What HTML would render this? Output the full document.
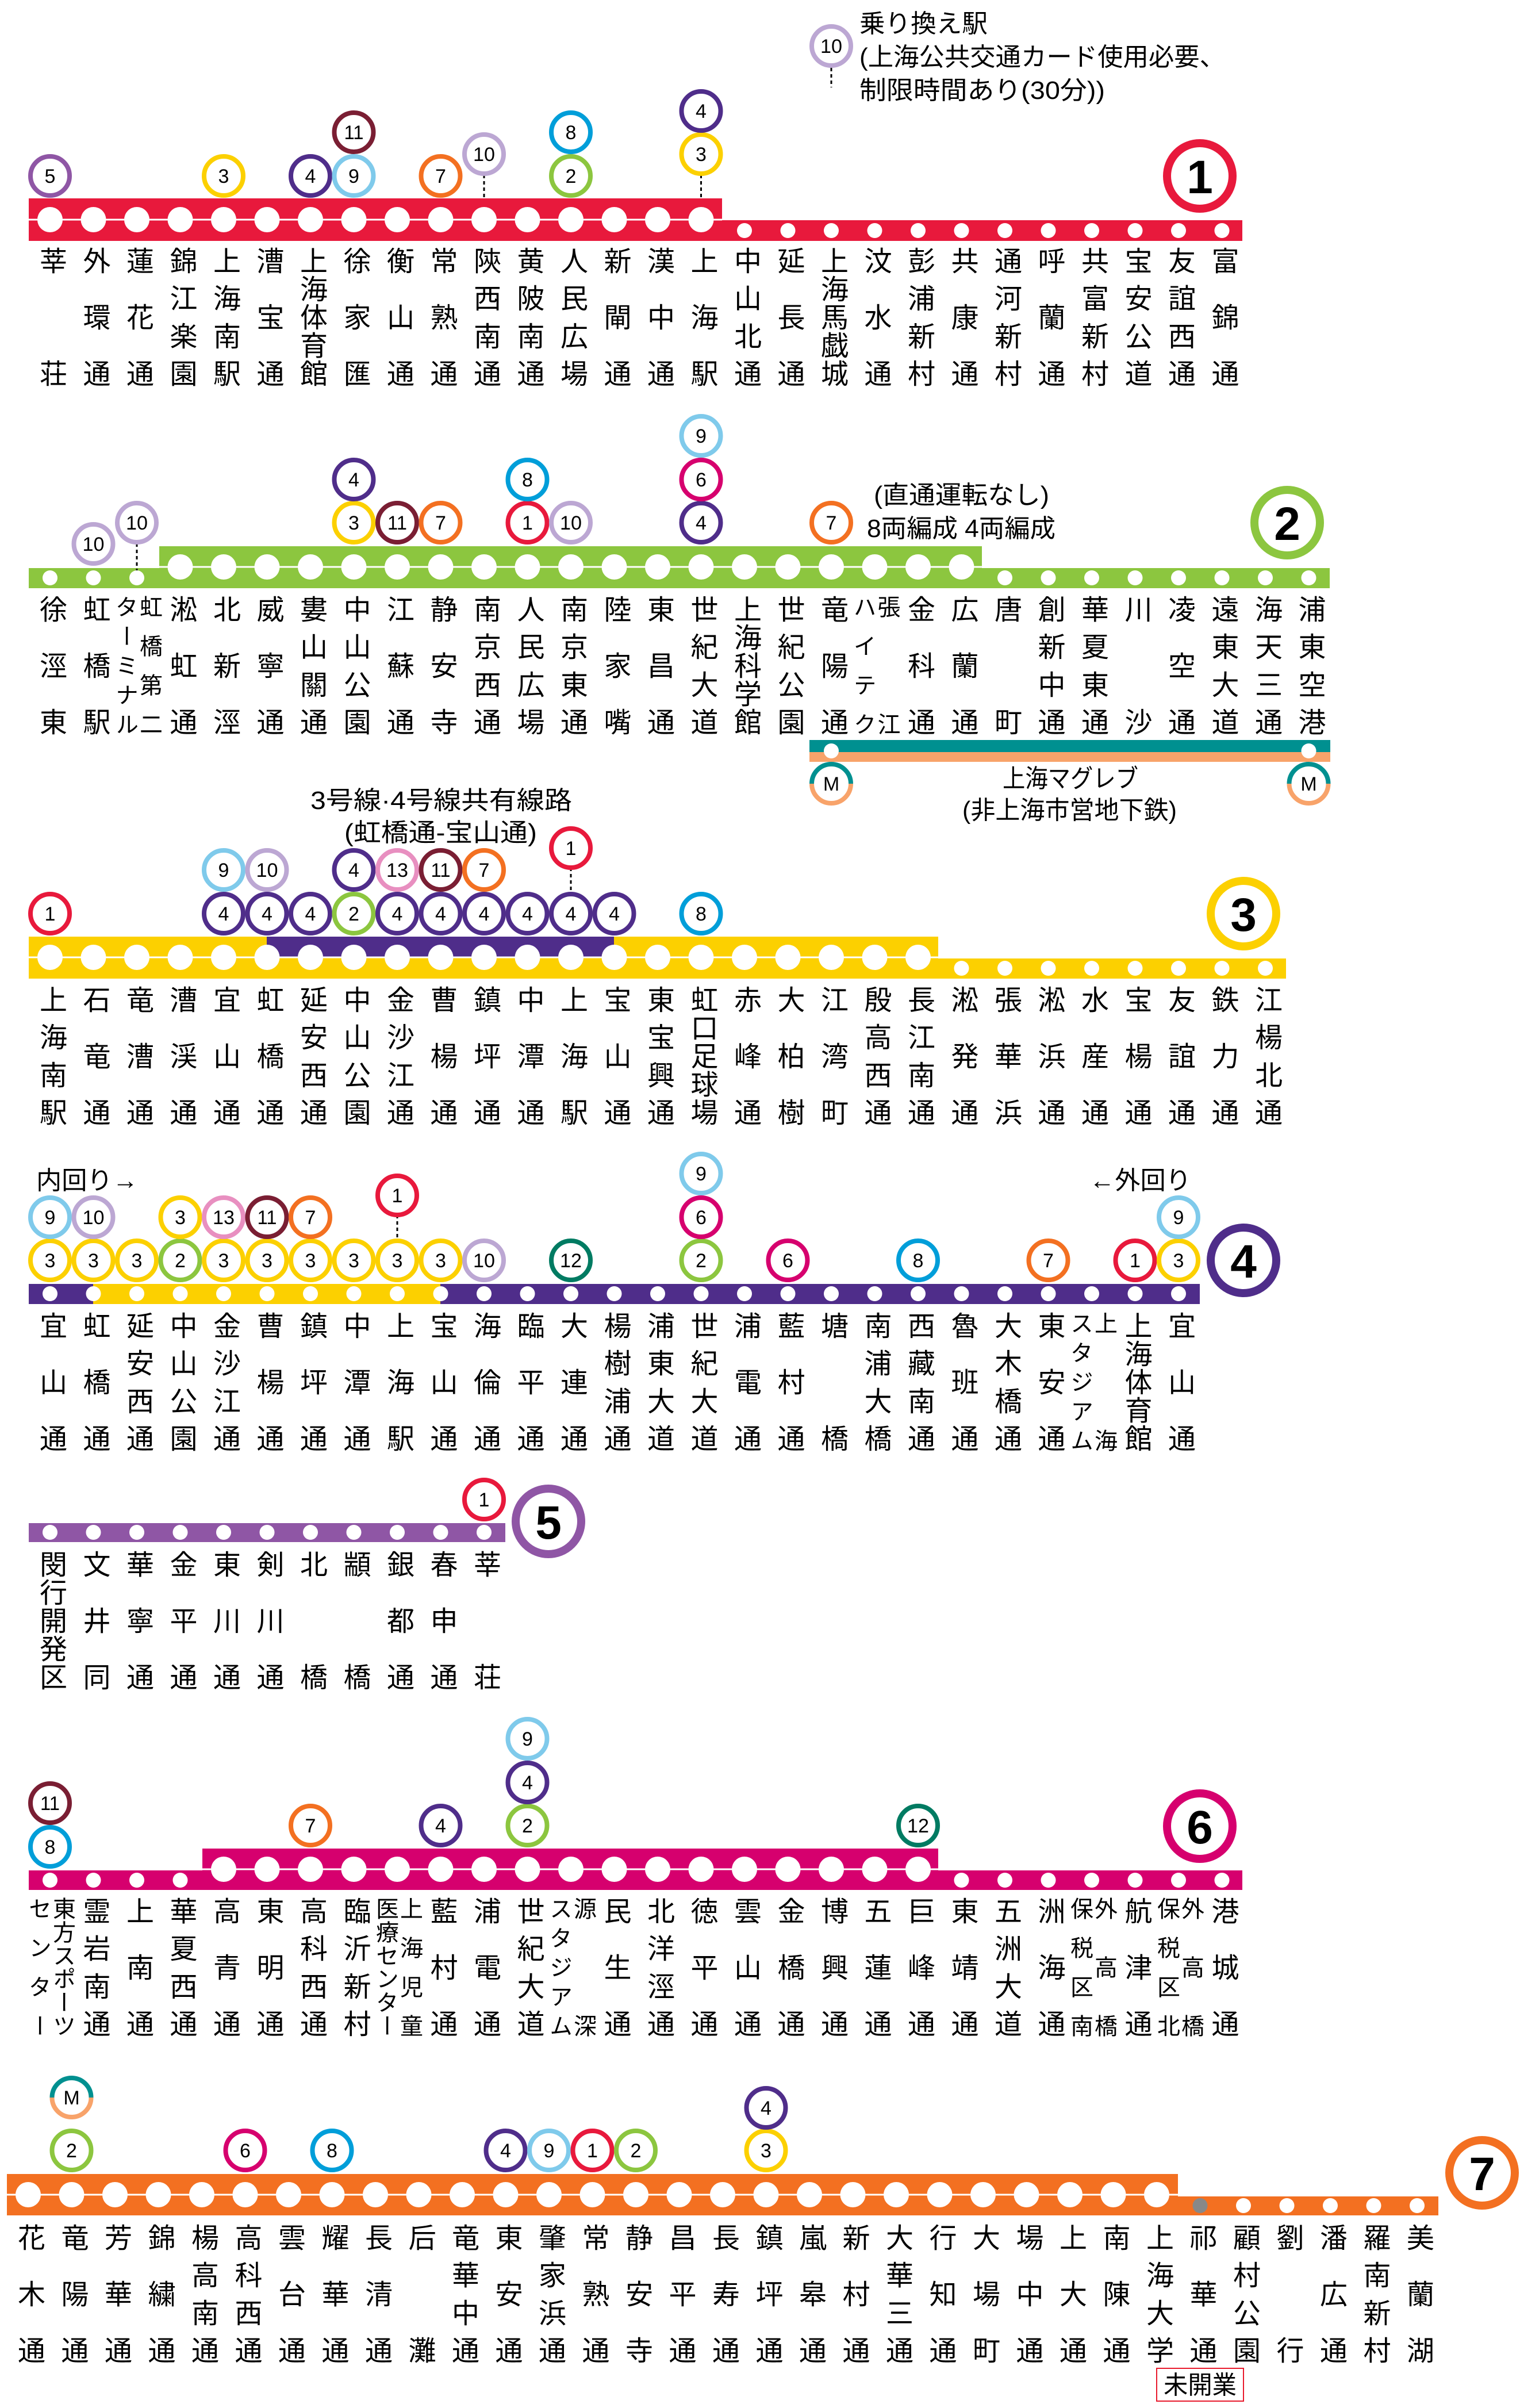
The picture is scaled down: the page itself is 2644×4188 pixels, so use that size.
<!DOCTYPE html>
<html><head><meta charset="utf-8">
<style>
html,body{margin:0;padding:0;background:#fff}
#w{position:relative;width:2644px;height:4188px;overflow:hidden;font-family:"Liberation Sans","Noto Sans CJK JP",sans-serif}
svg{position:absolute;left:0;top:0}
.b{fill:#fff;stroke-width:8}
.t{font-family:"Liberation Sans",sans-serif;font-size:34px;text-anchor:middle;fill:#000}
.L{fill:#fff;stroke-width:14}
.T{font-family:"Liberation Sans",sans-serif;font-size:82px;font-weight:bold;text-anchor:middle;fill:#000}
.j{font-family:"Liberation Sans","Noto Sans CJK JP",sans-serif;font-size:44px;fill:#000}
.k1{stroke:#e8193c}.k2{stroke:#8cc63f}.k3{stroke:#fcd000}.k4{stroke:#4f2d8a}.k5{stroke:#8f56a5}.k6{stroke:#d6006e}.k7{stroke:#f37021}.k8{stroke:#009ed9}.k9{stroke:#7fcaeb}.k10{stroke:#bca7d3}.k11{stroke:#7a1e33}.k12{stroke:#007b62}.k13{stroke:#e88fc0}
.dt{stroke:#000;stroke-width:3;stroke-dasharray:6 5}
.r{position:absolute;display:flex;height:244px}
.r i{writing-mode:vertical-rl;display:flex;justify-content:space-between;align-items:center;width:75.5px;height:244px;font-style:normal;font-size:48px;line-height:48px;flex:none;font-family:"Liberation Sans","Noto Sans CJK JP",sans-serif;color:#000}
.r b{font-weight:normal;display:block}
.r i.d{writing-mode:horizontal-tb;flex-direction:row-reverse;justify-content:center;align-items:stretch}
.r i.d i{width:42px;font-size:40px;line-height:42px}
</style></head><body><div id="w">
<svg width="2644" height="4188" viewBox="0 0 2644 4188" xmlns="http://www.w3.org/2000/svg">
<!-- legend -->
<line class="dt" x1="1446" y1="118" x2="1446" y2="152"/>
<circle class="b k10" cx="1446" cy="80" r="34"/><text class="t" x="1446" y="92" textLength="38" lengthAdjust="spacingAndGlyphs">10</text>
<text class="j" x="1495" y="56" textLength="223" lengthAdjust="spacingAndGlyphs">乗り換え駅</text>
<text class="j" x="1495" y="114" textLength="636" lengthAdjust="spacingAndGlyphs">(上海公共交通カード使用必要、</text>
<text class="j" x="1495" y="172" textLength="427" lengthAdjust="spacingAndGlyphs">制限時間あり(30分))</text>

<!-- LINE 1 -->
<rect x="50" y="345" width="1206" height="74" fill="#e8193c"/>
<rect x="50" y="383" width="2111" height="36" fill="#e8193c"/>
<line x1="50" y1="382" x2="1256" y2="382" stroke="#fff" stroke-width="3"/>
<line x1="87" y1="382" x2="1220.5" y2="382" stroke="#fff" stroke-width="44" stroke-linecap="round" stroke-dasharray="0 75.5"/>
<line x1="1295" y1="401" x2="2126.5" y2="401" stroke="#fff" stroke-width="26" stroke-linecap="round" stroke-dasharray="0 75.5"/>
<line class="dt" x1="842" y1="304" x2="842" y2="345"/>
<line class="dt" x1="1219.5" y1="304" x2="1219.5" y2="345"/>
<circle class="b k5" cx="87" cy="306" r="34"/><text class="t" x="87" y="318">5</text>
<circle class="b k3" cx="389" cy="306" r="34"/><text class="t" x="389" y="318">3</text>
<circle class="b k4" cx="540" cy="306" r="34"/><text class="t" x="540" y="318">4</text>
<circle class="b k9" cx="615.5" cy="306" r="34"/><text class="t" x="615.5" y="318">9</text>
<circle class="b k11" cx="615.5" cy="230" r="34"/><text class="t" x="615.5" y="242" textLength="34" lengthAdjust="spacingAndGlyphs">11</text>
<circle class="b k7" cx="766.5" cy="306" r="34"/><text class="t" x="766.5" y="318">7</text>
<circle class="b k10" cx="842" cy="268" r="34"/><text class="t" x="842" y="280" textLength="38" lengthAdjust="spacingAndGlyphs">10</text>
<circle class="b k2" cx="993" cy="306" r="34"/><text class="t" x="993" y="318">2</text>
<circle class="b k8" cx="993" cy="230" r="34"/><text class="t" x="993" y="242">8</text>
<circle class="b k3" cx="1219.5" cy="268" r="34"/><text class="t" x="1219.5" y="280">3</text>
<circle class="b k4" cx="1219.5" cy="193" r="34"/><text class="t" x="1219.5" y="205">4</text>
<circle class="L k1" cx="2087" cy="306" r="57"/><text class="T" x="2087" y="336">1</text>

<!-- LINE 2 -->
<rect x="50" y="988" width="2263" height="35" fill="#8cc63f"/>
<rect x="277" y="950" width="1431" height="73" fill="#8cc63f"/>
<line x1="277" y1="986" x2="1708" y2="986" stroke="#fff" stroke-width="3"/>
<line x1="313.5" y1="986" x2="1674" y2="986" stroke="#fff" stroke-width="44" stroke-linecap="round" stroke-dasharray="0 75.5"/>
<line x1="87" y1="1005" x2="239" y2="1005" stroke="#fff" stroke-width="26" stroke-linecap="round" stroke-dasharray="0 75.5"/>
<line x1="1748" y1="1005" x2="2278" y2="1005" stroke="#fff" stroke-width="26" stroke-linecap="round" stroke-dasharray="0 75.5"/>
<line class="dt" x1="238" y1="945" x2="238" y2="992"/>
<circle class="b k10" cx="162.5" cy="946" r="34"/><text class="t" x="162.5" y="958" textLength="38" lengthAdjust="spacingAndGlyphs">10</text>
<circle class="b k10" cx="238" cy="909" r="34"/><text class="t" x="238" y="921" textLength="38" lengthAdjust="spacingAndGlyphs">10</text>
<circle class="b k3" cx="615.5" cy="909" r="34"/><text class="t" x="615.5" y="921">3</text>
<circle class="b k4" cx="615.5" cy="834" r="34"/><text class="t" x="615.5" y="846">4</text>
<circle class="b k11" cx="691" cy="909" r="34"/><text class="t" x="691" y="921" textLength="34" lengthAdjust="spacingAndGlyphs">11</text>
<circle class="b k7" cx="766.5" cy="909" r="34"/><text class="t" x="766.5" y="921">7</text>
<circle class="b k1" cx="917.5" cy="909" r="34"/><text class="t" x="917.5" y="921">1</text>
<circle class="b k8" cx="917.5" cy="834" r="34"/><text class="t" x="917.5" y="846">8</text>
<circle class="b k10" cx="993" cy="909" r="34"/><text class="t" x="993" y="921" textLength="38" lengthAdjust="spacingAndGlyphs">10</text>
<circle class="b k4" cx="1219.5" cy="909" r="34"/><text class="t" x="1219.5" y="921">4</text>
<circle class="b k6" cx="1219.5" cy="834" r="34"/><text class="t" x="1219.5" y="846">6</text>
<circle class="b k9" cx="1219.5" cy="758" r="34"/><text class="t" x="1219.5" y="770">9</text>
<circle class="b k7" cx="1446" cy="909" r="34"/><text class="t" x="1446" y="921">7</text>
<text class="j" x="1520" y="876" textLength="305" lengthAdjust="spacingAndGlyphs">(直通運転なし)</text>
<text class="j" x="1508" y="934" textLength="328" lengthAdjust="spacingAndGlyphs">8両編成  4両編成</text>
<circle class="L k2" cx="2239" cy="909" r="57"/><text class="T" x="2239" y="939">2</text>
<!-- maglev -->
<rect x="1408" y="1287" width="906" height="21" fill="#009090"/>
<rect x="1408" y="1308" width="906" height="17" fill="#f8a36a"/>
<circle cx="1446" cy="1306" r="13" fill="#fff"/><circle cx="2276.5" cy="1306" r="13" fill="#fff"/>
<path d="M1412 1363A34 34 0 0 1 1480 1363" fill="none" stroke="#009090" stroke-width="8"/>
<path d="M1412 1363A34 34 0 0 0 1480 1363" fill="none" stroke="#f8a36a" stroke-width="8"/>
<text class="t" x="1446" y="1375">M</text>
<path d="M2242.5 1363A34 34 0 0 1 2310.5 1363" fill="none" stroke="#009090" stroke-width="8"/>
<path d="M2242.5 1363A34 34 0 0 0 2310.5 1363" fill="none" stroke="#f8a36a" stroke-width="8"/>
<text class="t" x="2276.5" y="1375">M</text>
<text class="j" x="1744" y="1369" textLength="236" lengthAdjust="spacingAndGlyphs">上海マグレブ</text>
<text class="j" x="1674" y="1424" textLength="373" lengthAdjust="spacingAndGlyphs">(非上海市営地下鉄)</text>

<!-- LINE 3 -->
<rect x="50" y="1667" width="2187" height="35" fill="#fcd000"/>
<rect x="50" y="1629" width="1582" height="73" fill="#fcd000"/>
<rect x="464" y="1629" width="604" height="36" fill="#4f2d8a"/>
<line x1="50" y1="1665" x2="1632" y2="1665" stroke="#fff" stroke-width="3"/>
<line x1="87" y1="1665" x2="1598.5" y2="1665" stroke="#fff" stroke-width="44" stroke-linecap="round" stroke-dasharray="0 75.5"/>
<line x1="1672.5" y1="1684" x2="2202.5" y2="1684" stroke="#fff" stroke-width="26" stroke-linecap="round" stroke-dasharray="0 75.5"/>
<text class="j" x="540" y="1407" textLength="455" lengthAdjust="spacingAndGlyphs">3号線·4号線共有線路</text>
<text class="j" x="599" y="1463" textLength="335" lengthAdjust="spacingAndGlyphs">(虹橋通-宝山通)</text>
<line class="dt" x1="993" y1="1509" x2="993" y2="1555"/>
<circle class="b k1" cx="87" cy="1589" r="34"/><text class="t" x="87" y="1601">1</text>
<circle class="b k4" cx="389" cy="1589" r="34"/><text class="t" x="389" y="1601">4</text>
<circle class="b k9" cx="389" cy="1513" r="34"/><text class="t" x="389" y="1525">9</text>
<circle class="b k4" cx="464.5" cy="1589" r="34"/><text class="t" x="464.5" y="1601">4</text>
<circle class="b k10" cx="464.5" cy="1513" r="34"/><text class="t" x="464.5" y="1525" textLength="38" lengthAdjust="spacingAndGlyphs">10</text>
<circle class="b k4" cx="540" cy="1589" r="34"/><text class="t" x="540" y="1601">4</text>
<circle class="b k2" cx="615.5" cy="1589" r="34"/><text class="t" x="615.5" y="1601">2</text>
<circle class="b k4" cx="615.5" cy="1513" r="34"/><text class="t" x="615.5" y="1525">4</text>
<circle class="b k4" cx="691" cy="1589" r="34"/><text class="t" x="691" y="1601">4</text>
<circle class="b k13" cx="691" cy="1513" r="34"/><text class="t" x="691" y="1525" textLength="38" lengthAdjust="spacingAndGlyphs">13</text>
<circle class="b k4" cx="766.5" cy="1589" r="34"/><text class="t" x="766.5" y="1601">4</text>
<circle class="b k11" cx="766.5" cy="1513" r="34"/><text class="t" x="766.5" y="1525" textLength="34" lengthAdjust="spacingAndGlyphs">11</text>
<circle class="b k4" cx="842" cy="1589" r="34"/><text class="t" x="842" y="1601">4</text>
<circle class="b k7" cx="842" cy="1513" r="34"/><text class="t" x="842" y="1525">7</text>
<circle class="b k4" cx="917.5" cy="1589" r="34"/><text class="t" x="917.5" y="1601">4</text>
<circle class="b k4" cx="993" cy="1589" r="34"/><text class="t" x="993" y="1601">4</text>
<circle class="b k1" cx="993" cy="1475" r="34"/><text class="t" x="993" y="1487">1</text>
<circle class="b k4" cx="1068.5" cy="1589" r="34"/><text class="t" x="1068.5" y="1601">4</text>
<circle class="b k8" cx="1219.5" cy="1589" r="34"/><text class="t" x="1219.5" y="1601">8</text>
<circle class="L k3" cx="2163" cy="1589" r="57"/><text class="T" x="2163" y="1619">3</text>

<!-- LINE 4 -->
<rect x="50" y="2233" width="2037" height="35" fill="#4f2d8a"/>
<rect x="162" y="2233" width="604" height="35" fill="#fcd000"/>
<line x1="87" y1="2250" x2="2051" y2="2250" stroke="#fff" stroke-width="26" stroke-linecap="round" stroke-dasharray="0 75.5"/>
<text class="j" x="63" y="2068" textLength="177" lengthAdjust="spacingAndGlyphs">内回り→</text>
<text class="j" x="1895" y="2068" textLength="177" lengthAdjust="spacingAndGlyphs">←外回り</text>
<line class="dt" x1="691" y1="2113" x2="691" y2="2158"/>
<circle class="b k3" cx="87" cy="2192" r="34"/><text class="t" x="87" y="2204">3</text>
<circle class="b k9" cx="87" cy="2117" r="34"/><text class="t" x="87" y="2129">9</text>
<circle class="b k3" cx="162.5" cy="2192" r="34"/><text class="t" x="162.5" y="2204">3</text>
<circle class="b k10" cx="162.5" cy="2117" r="34"/><text class="t" x="162.5" y="2129" textLength="38" lengthAdjust="spacingAndGlyphs">10</text>
<circle class="b k3" cx="238" cy="2192" r="34"/><text class="t" x="238" y="2204">3</text>
<circle class="b k2" cx="313.5" cy="2192" r="34"/><text class="t" x="313.5" y="2204">2</text>
<circle class="b k3" cx="313.5" cy="2117" r="34"/><text class="t" x="313.5" y="2129">3</text>
<circle class="b k3" cx="389" cy="2192" r="34"/><text class="t" x="389" y="2204">3</text>
<circle class="b k13" cx="389" cy="2117" r="34"/><text class="t" x="389" y="2129" textLength="38" lengthAdjust="spacingAndGlyphs">13</text>
<circle class="b k3" cx="464.5" cy="2192" r="34"/><text class="t" x="464.5" y="2204">3</text>
<circle class="b k11" cx="464.5" cy="2117" r="34"/><text class="t" x="464.5" y="2129" textLength="34" lengthAdjust="spacingAndGlyphs">11</text>
<circle class="b k3" cx="540" cy="2192" r="34"/><text class="t" x="540" y="2204">3</text>
<circle class="b k7" cx="540" cy="2117" r="34"/><text class="t" x="540" y="2129">7</text>
<circle class="b k3" cx="615.5" cy="2192" r="34"/><text class="t" x="615.5" y="2204">3</text>
<circle class="b k3" cx="691" cy="2192" r="34"/><text class="t" x="691" y="2204">3</text>
<circle class="b k1" cx="691" cy="2079" r="34"/><text class="t" x="691" y="2091">1</text>
<circle class="b k3" cx="766.5" cy="2192" r="34"/><text class="t" x="766.5" y="2204">3</text>
<circle class="b k10" cx="842" cy="2192" r="34"/><text class="t" x="842" y="2204" textLength="38" lengthAdjust="spacingAndGlyphs">10</text>
<circle class="b k12" cx="993" cy="2192" r="34"/><text class="t" x="993" y="2204" textLength="38" lengthAdjust="spacingAndGlyphs">12</text>
<circle class="b k2" cx="1219.5" cy="2192" r="34"/><text class="t" x="1219.5" y="2204">2</text>
<circle class="b k6" cx="1219.5" cy="2117" r="34"/><text class="t" x="1219.5" y="2129">6</text>
<circle class="b k9" cx="1219.5" cy="2041" r="34"/><text class="t" x="1219.5" y="2053">9</text>
<circle class="b k6" cx="1370.5" cy="2192" r="34"/><text class="t" x="1370.5" y="2204">6</text>
<circle class="b k8" cx="1597" cy="2192" r="34"/><text class="t" x="1597" y="2204">8</text>
<circle class="b k7" cx="1823.5" cy="2192" r="34"/><text class="t" x="1823.5" y="2204">7</text>
<circle class="b k1" cx="1974.5" cy="2192" r="34"/><text class="t" x="1974.5" y="2204">1</text>
<circle class="b k3" cx="2050" cy="2192" r="34"/><text class="t" x="2050" y="2204">3</text>
<circle class="b k9" cx="2050" cy="2117" r="34"/><text class="t" x="2050" y="2129">9</text>
<circle class="L k4" cx="2163" cy="2192" r="57"/><text class="T" x="2163" y="2222">4</text>

<!-- LINE 5 -->
<rect x="50" y="2649" width="829" height="33" fill="#8f56a5"/>
<line x1="87" y1="2665" x2="843" y2="2665" stroke="#fff" stroke-width="26" stroke-linecap="round" stroke-dasharray="0 75.5"/>
<circle class="b k1" cx="842" cy="2608" r="34"/><text class="t" x="842" y="2620">1</text>
<circle class="L k5" cx="954" cy="2646" r="57"/><text class="T" x="954" y="2676">5</text>

<!-- LINE 6 -->
<rect x="50" y="3253" width="2111" height="34" fill="#d6006e"/>
<rect x="352" y="3215" width="1280" height="72" fill="#d6006e"/>
<line x1="352" y1="3251" x2="1632" y2="3251" stroke="#fff" stroke-width="3"/>
<line x1="389" y1="3251" x2="1598.5" y2="3251" stroke="#fff" stroke-width="44" stroke-linecap="round" stroke-dasharray="0 75.5"/>
<line x1="87" y1="3270" x2="314.5" y2="3270" stroke="#fff" stroke-width="26" stroke-linecap="round" stroke-dasharray="0 75.5"/>
<line x1="1672.5" y1="3270" x2="2127" y2="3270" stroke="#fff" stroke-width="26" stroke-linecap="round" stroke-dasharray="0 75.5"/>
<circle class="b k8" cx="87" cy="3212" r="34"/><text class="t" x="87" y="3224">8</text>
<circle class="b k11" cx="87" cy="3136" r="34"/><text class="t" x="87" y="3148" textLength="34" lengthAdjust="spacingAndGlyphs">11</text>
<circle class="b k7" cx="540" cy="3175" r="34"/><text class="t" x="540" y="3187">7</text>
<circle class="b k4" cx="766.5" cy="3175" r="34"/><text class="t" x="766.5" y="3187">4</text>
<circle class="b k2" cx="917.5" cy="3175" r="34"/><text class="t" x="917.5" y="3187">2</text>
<circle class="b k4" cx="917.5" cy="3100" r="34"/><text class="t" x="917.5" y="3112">4</text>
<circle class="b k9" cx="917.5" cy="3024" r="34"/><text class="t" x="917.5" y="3036">9</text>
<circle class="b k12" cx="1597" cy="3175" r="34"/><text class="t" x="1597" y="3187" textLength="38" lengthAdjust="spacingAndGlyphs">12</text>
<circle class="L k6" cx="2087" cy="3176" r="57"/><text class="T" x="2087" y="3206">6</text>

<!-- LINE 7 -->
<rect x="12" y="3820" width="2490" height="33" fill="#f37021"/>
<rect x="12" y="3781" width="2037" height="72" fill="#f37021"/>
<line x1="12" y1="3817" x2="2049" y2="3817" stroke="#fff" stroke-width="3"/>
<line x1="49" y1="3817" x2="2013.5" y2="3817" stroke="#fff" stroke-width="44" stroke-linecap="round" stroke-dasharray="0 75.5"/>
<line x1="2163" y1="3836" x2="2466.5" y2="3836" stroke="#fff" stroke-width="26" stroke-linecap="round" stroke-dasharray="0 75.5"/>
<circle cx="2087.5" cy="3836" r="13" fill="#888"/>
<path d="M90.5 3648A34 34 0 0 1 158.5 3648" fill="none" stroke="#009090" stroke-width="8"/>
<path d="M90.5 3648A34 34 0 0 0 158.5 3648" fill="none" stroke="#f8a36a" stroke-width="8"/>
<text class="t" x="124.5" y="3660">M</text>
<circle class="b k2" cx="124.5" cy="3740" r="34"/><text class="t" x="124.5" y="3752">2</text>
<circle class="b k6" cx="426.5" cy="3740" r="34"/><text class="t" x="426.5" y="3752">6</text>
<circle class="b k8" cx="577.5" cy="3740" r="34"/><text class="t" x="577.5" y="3752">8</text>
<circle class="b k4" cx="879.5" cy="3740" r="34"/><text class="t" x="879.5" y="3752">4</text>
<circle class="b k9" cx="955" cy="3740" r="34"/><text class="t" x="955" y="3752">9</text>
<circle class="b k1" cx="1030.5" cy="3740" r="34"/><text class="t" x="1030.5" y="3752">1</text>
<circle class="b k2" cx="1106" cy="3740" r="34"/><text class="t" x="1106" y="3752">2</text>
<circle class="b k3" cx="1332.5" cy="3740" r="34"/><text class="t" x="1332.5" y="3752">3</text>
<circle class="b k4" cx="1332.5" cy="3666" r="34"/><text class="t" x="1332.5" y="3678">4</text>
<circle class="L k7" cx="2578" cy="3779" r="57"/><text class="T" x="2578" y="3809">7</text>
<rect x="2012" y="4119" width="151" height="57" fill="none" stroke="#e8192c" stroke-width="2"/>
<text class="j" x="2024" y="4163" textLength="127" lengthAdjust="spacingAndGlyphs">未開業</text>
</svg>

<div class="r" style="left:49.25px;top:429px"><i><b>莘</b><b>荘</b></i><i><b>外</b><b>環</b><b>通</b></i><i><b>蓮</b><b>花</b><b>通</b></i><i><b>錦</b><b>江</b><b>楽</b><b>園</b></i><i><b>上</b><b>海</b><b>南</b><b>駅</b></i><i><b>漕</b><b>宝</b><b>通</b></i><i><b>上</b><b>海</b><b>体</b><b>育</b><b>館</b></i><i><b>徐</b><b>家</b><b>匯</b></i><i><b>衡</b><b>山</b><b>通</b></i><i><b>常</b><b>熟</b><b>通</b></i><i><b>陝</b><b>西</b><b>南</b><b>通</b></i><i><b>黄</b><b>陂</b><b>南</b><b>通</b></i><i><b>人</b><b>民</b><b>広</b><b>場</b></i><i><b>新</b><b>閘</b><b>通</b></i><i><b>漢</b><b>中</b><b>通</b></i><i><b>上</b><b>海</b><b>駅</b></i><i><b>中</b><b>山</b><b>北</b><b>通</b></i><i><b>延</b><b>長</b><b>通</b></i><i><b>上</b><b>海</b><b>馬</b><b>戯</b><b>城</b></i><i><b>汶</b><b>水</b><b>通</b></i><i><b>彭</b><b>浦</b><b>新</b><b>村</b></i><i><b>共</b><b>康</b><b>通</b></i><i><b>通</b><b>河</b><b>新</b><b>村</b></i><i><b>呼</b><b>蘭</b><b>通</b></i><i><b>共</b><b>富</b><b>新</b><b>村</b></i><i><b>宝</b><b>安</b><b>公</b><b>道</b></i><i><b>友</b><b>誼</b><b>西</b><b>通</b></i><i><b>富</b><b>錦</b><b>通</b></i></div>

<div class="r" style="left:49.25px;top:1035px"><i><b>徐</b><b>涇</b><b>東</b></i><i><b>虹</b><b>橋</b><b>駅</b></i><i class="d"><i><b>虹</b><b>橋</b><b>第</b><b>二</b></i><i><b>タ</b><b>ー</b><b>ミ</b><b>ナ</b><b>ル</b></i></i><i><b>淞</b><b>虹</b><b>通</b></i><i><b>北</b><b>新</b><b>涇</b></i><i><b>威</b><b>寧</b><b>通</b></i><i><b>婁</b><b>山</b><b>關</b><b>通</b></i><i><b>中</b><b>山</b><b>公</b><b>園</b></i><i><b>江</b><b>蘇</b><b>通</b></i><i><b>静</b><b>安</b><b>寺</b></i><i><b>南</b><b>京</b><b>西</b><b>通</b></i><i><b>人</b><b>民</b><b>広</b><b>場</b></i><i><b>南</b><b>京</b><b>東</b><b>通</b></i><i><b>陸</b><b>家</b><b>嘴</b></i><i><b>東</b><b>昌</b><b>通</b></i><i><b>世</b><b>紀</b><b>大</b><b>道</b></i><i><b>上</b><b>海</b><b>科</b><b>学</b><b>館</b></i><i><b>世</b><b>紀</b><b>公</b><b>園</b></i><i><b>竜</b><b>陽</b><b>通</b></i><i class="d"><i><b>張</b><b>江</b></i><i><b>ハ</b><b>イ</b><b>テ</b><b>ク</b></i></i><i><b>金</b><b>科</b><b>通</b></i><i><b>広</b><b>蘭</b><b>通</b></i><i><b>唐</b><b>町</b></i><i><b>創</b><b>新</b><b>中</b><b>通</b></i><i><b>華</b><b>夏</b><b>東</b><b>通</b></i><i><b>川</b><b>沙</b></i><i><b>凌</b><b>空</b><b>通</b></i><i><b>遠</b><b>東</b><b>大</b><b>道</b></i><i><b>海</b><b>天</b><b>三</b><b>通</b></i><i><b>浦</b><b>東</b><b>空</b><b>港</b></i></div>

<div class="r" style="left:49.25px;top:1714px"><i><b>上</b><b>海</b><b>南</b><b>駅</b></i><i><b>石</b><b>竜</b><b>通</b></i><i><b>竜</b><b>漕</b><b>通</b></i><i><b>漕</b><b>渓</b><b>通</b></i><i><b>宜</b><b>山</b><b>通</b></i><i><b>虹</b><b>橋</b><b>通</b></i><i><b>延</b><b>安</b><b>西</b><b>通</b></i><i><b>中</b><b>山</b><b>公</b><b>園</b></i><i><b>金</b><b>沙</b><b>江</b><b>通</b></i><i><b>曹</b><b>楊</b><b>通</b></i><i><b>鎮</b><b>坪</b><b>通</b></i><i><b>中</b><b>潭</b><b>通</b></i><i><b>上</b><b>海</b><b>駅</b></i><i><b>宝</b><b>山</b><b>通</b></i><i><b>東</b><b>宝</b><b>興</b><b>通</b></i><i><b>虹</b><b>口</b><b>足</b><b>球</b><b>場</b></i><i><b>赤</b><b>峰</b><b>通</b></i><i><b>大</b><b>柏</b><b>樹</b></i><i><b>江</b><b>湾</b><b>町</b></i><i><b>殷</b><b>高</b><b>西</b><b>通</b></i><i><b>長</b><b>江</b><b>南</b><b>通</b></i><i><b>淞</b><b>発</b><b>通</b></i><i><b>張</b><b>華</b><b>浜</b></i><i><b>淞</b><b>浜</b><b>通</b></i><i><b>水</b><b>産</b><b>通</b></i><i><b>宝</b><b>楊</b><b>通</b></i><i><b>友</b><b>誼</b><b>通</b></i><i><b>鉄</b><b>力</b><b>通</b></i><i><b>江</b><b>楊</b><b>北</b><b>通</b></i></div>

<div class="r" style="left:49.25px;top:2281px"><i><b>宜</b><b>山</b><b>通</b></i><i><b>虹</b><b>橋</b><b>通</b></i><i><b>延</b><b>安</b><b>西</b><b>通</b></i><i><b>中</b><b>山</b><b>公</b><b>園</b></i><i><b>金</b><b>沙</b><b>江</b><b>通</b></i><i><b>曹</b><b>楊</b><b>通</b></i><i><b>鎮</b><b>坪</b><b>通</b></i><i><b>中</b><b>潭</b><b>通</b></i><i><b>上</b><b>海</b><b>駅</b></i><i><b>宝</b><b>山</b><b>通</b></i><i><b>海</b><b>倫</b><b>通</b></i><i><b>臨</b><b>平</b><b>通</b></i><i><b>大</b><b>連</b><b>通</b></i><i><b>楊</b><b>樹</b><b>浦</b><b>通</b></i><i><b>浦</b><b>東</b><b>大</b><b>道</b></i><i><b>世</b><b>紀</b><b>大</b><b>道</b></i><i><b>浦</b><b>電</b><b>通</b></i><i><b>藍</b><b>村</b><b>通</b></i><i><b>塘</b><b>橋</b></i><i><b>南</b><b>浦</b><b>大</b><b>橋</b></i><i><b>西</b><b>藏</b><b>南</b><b>通</b></i><i><b>魯</b><b>班</b><b>通</b></i><i><b>大</b><b>木</b><b>橋</b><b>通</b></i><i><b>東</b><b>安</b><b>通</b></i><i class="d"><i><b>上</b><b>海</b></i><i><b>ス</b><b>タ</b><b>ジ</b><b>ア</b><b>ム</b></i></i><i><b>上</b><b>海</b><b>体</b><b>育</b><b>館</b></i><i><b>宜</b><b>山</b><b>通</b></i></div>

<div class="r" style="left:49.25px;top:2696px"><i><b>閔</b><b>行</b><b>開</b><b>発</b><b>区</b></i><i><b>文</b><b>井</b><b>同</b></i><i><b>華</b><b>寧</b><b>通</b></i><i><b>金</b><b>平</b><b>通</b></i><i><b>東</b><b>川</b><b>通</b></i><i><b>剣</b><b>川</b><b>通</b></i><i><b>北</b><b>橋</b></i><i><b>顓</b><b>橋</b></i><i><b>銀</b><b>都</b><b>通</b></i><i><b>春</b><b>申</b><b>通</b></i><i><b>莘</b><b>荘</b></i></div>

<div class="r" style="left:49.25px;top:3299px"><i class="d"><i><b>東</b><b>方</b><b>ス</b><b>ポ</b><b>ー</b><b>ツ</b></i><i><b>セ</b><b>ン</b><b>タ</b><b>ー</b></i></i><i><b>霊</b><b>岩</b><b>南</b><b>通</b></i><i><b>上</b><b>南</b><b>通</b></i><i><b>華</b><b>夏</b><b>西</b><b>通</b></i><i><b>高</b><b>青</b><b>通</b></i><i><b>東</b><b>明</b><b>通</b></i><i><b>高</b><b>科</b><b>西</b><b>通</b></i><i><b>臨</b><b>沂</b><b>新</b><b>村</b></i><i class="d"><i><b>上</b><b>海</b><b>児</b><b>童</b></i><i><b>医</b><b>療</b><b>セ</b><b>ン</b><b>タ</b><b>ー</b></i></i><i><b>藍</b><b>村</b><b>通</b></i><i><b>浦</b><b>電</b><b>通</b></i><i><b>世</b><b>紀</b><b>大</b><b>道</b></i><i class="d"><i><b>源</b><b>深</b></i><i><b>ス</b><b>タ</b><b>ジ</b><b>ア</b><b>ム</b></i></i><i><b>民</b><b>生</b><b>通</b></i><i><b>北</b><b>洋</b><b>涇</b><b>通</b></i><i><b>徳</b><b>平</b><b>通</b></i><i><b>雲</b><b>山</b><b>通</b></i><i><b>金</b><b>橋</b><b>通</b></i><i><b>博</b><b>興</b><b>通</b></i><i><b>五</b><b>蓮</b><b>通</b></i><i><b>巨</b><b>峰</b><b>通</b></i><i><b>東</b><b>靖</b><b>通</b></i><i><b>五</b><b>洲</b><b>大</b><b>道</b></i><i><b>洲</b><b>海</b><b>通</b></i><i class="d"><i><b>外</b><b>高</b><b>橋</b></i><i><b>保</b><b>税</b><b>区</b><b>南</b></i></i><i><b>航</b><b>津</b><b>通</b></i><i class="d"><i><b>外</b><b>高</b><b>橋</b></i><i><b>保</b><b>税</b><b>区</b><b>北</b></i></i><i><b>港</b><b>城</b><b>通</b></i></div>

<div class="r" style="left:11.25px;top:3867px"><i><b>花</b><b>木</b><b>通</b></i><i><b>竜</b><b>陽</b><b>通</b></i><i><b>芳</b><b>華</b><b>通</b></i><i><b>錦</b><b>繍</b><b>通</b></i><i><b>楊</b><b>高</b><b>南</b><b>通</b></i><i><b>高</b><b>科</b><b>西</b><b>通</b></i><i><b>雲</b><b>台</b><b>通</b></i><i><b>耀</b><b>華</b><b>通</b></i><i><b>長</b><b>清</b><b>通</b></i><i><b>后</b><b>灘</b></i><i><b>竜</b><b>華</b><b>中</b><b>通</b></i><i><b>東</b><b>安</b><b>通</b></i><i><b>肇</b><b>家</b><b>浜</b><b>通</b></i><i><b>常</b><b>熟</b><b>通</b></i><i><b>静</b><b>安</b><b>寺</b></i><i><b>昌</b><b>平</b><b>通</b></i><i><b>長</b><b>寿</b><b>通</b></i><i><b>鎮</b><b>坪</b><b>通</b></i><i><b>嵐</b><b>皋</b><b>通</b></i><i><b>新</b><b>村</b><b>通</b></i><i><b>大</b><b>華</b><b>三</b><b>通</b></i><i><b>行</b><b>知</b><b>通</b></i><i><b>大</b><b>場</b><b>町</b></i><i><b>場</b><b>中</b><b>通</b></i><i><b>上</b><b>大</b><b>通</b></i><i><b>南</b><b>陳</b><b>通</b></i><i><b>上</b><b>海</b><b>大</b><b>学</b></i><i><b>祁</b><b>華</b><b>通</b></i><i><b>顧</b><b>村</b><b>公</b><b>園</b></i><i><b>劉</b><b>行</b></i><i><b>潘</b><b>広</b><b>通</b></i><i><b>羅</b><b>南</b><b>新</b><b>村</b></i><i><b>美</b><b>蘭</b><b>湖</b></i></div>
</div></body></html>
